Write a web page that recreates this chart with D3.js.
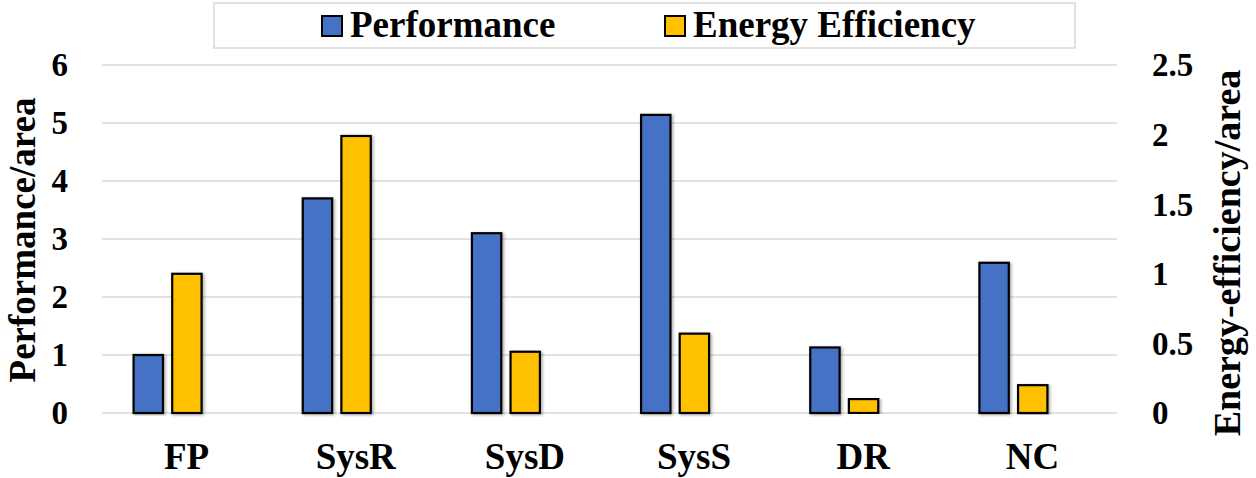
<!DOCTYPE html>
<html>
<head>
<meta charset="utf-8">
<script src="https://cdn.jsdelivr.net/npm/d3@7"></script>
<style>
  html, body { margin: 0; padding: 0; background: #fff; }
  svg { display: block; }
</style>
</head>
<body>
<svg id="chart" width="1256" height="478"></svg>
<script>
// Systems compared
const categories = ["FP", "SysR", "SysD", "SysS", "DR", "NC"];
// Performance per area (left axis)
const performance = [1.0, 3.7, 3.1, 5.14, 1.13, 2.59];
// Energy efficiency per area (right axis)
const energyEfficiency = [1.0, 1.99, 0.44, 0.57, 0.1, 0.2];
// Axis ticks
const leftTicks = [0, 1, 2, 3, 4, 5, 6];
const rightTicks = [0, 0.5, 1, 1.5, 2, 2.5];
const seriesNames = ["Performance", "Energy Efficiency"];
const seriesColors = ["#4472C4", "#FFC000"];

const FONT = "'Liberation Serif', 'Times New Roman', Times, serif";

const svg = d3.select("#chart");

const plot = { left: 102, right: 1117, top: 65, bottom: 413 };

const x = d3.scaleBand().domain(categories).range([plot.left, plot.right]).padding(0);
const yLeft = d3.scaleLinear().domain([0, 6]).range([plot.bottom, plot.top]);
const yRight = d3.scaleLinear().domain([0, 2.5]).range([plot.bottom, plot.top]);
// Two bars sit left of the group centre (a third slot is left empty)
const inner = d3.scaleBand().domain(seriesNames).range([-53, 15]).paddingInner(0.24).paddingOuter(0);

// Soft shadow under the bars
const defs = svg.append("defs");
const f = defs.append("filter").attr("id", "shadow")
  .attr("x", "-20%").attr("y", "-5%").attr("width", "140%").attr("height", "110%");
f.append("feDropShadow").attr("dx", 1.5).attr("dy", 1).attr("stdDeviation", 1.6)
  .attr("flood-color", "#000").attr("flood-opacity", 0.35);

function styleText(sel, size) {
  sel.style("font-family", FONT).style("font-weight", "bold")
     .style("font-size", size + "px").attr("fill", "#000");
}

// Gridlines
svg.append("g").selectAll("line").data(leftTicks).join("line")
  .attr("x1", plot.left).attr("x2", plot.right)
  .attr("y1", d => yLeft(d)).attr("y2", d => yLeft(d))
  .attr("stroke", "#d9d9d9").attr("stroke-width", 1.5);

// Left axis
const leftAxis = svg.append("g")
  .attr("transform", `translate(${plot.left - 34},0)`)
  .call(d3.axisLeft(yLeft).tickValues(leftTicks).tickSize(0).tickPadding(0).tickFormat(d3.format("d")));
leftAxis.select(".domain").remove();
leftAxis.selectAll("text").call(styleText, 33).attr("dy", "0.33em");

// Right axis
const rightAxis = svg.append("g")
  .attr("transform", `translate(${plot.right + 35},0)`)
  .call(d3.axisRight(yRight).tickValues(rightTicks).tickSize(0).tickPadding(0).tickFormat(d => d3.format("")(d)));
rightAxis.select(".domain").remove();
rightAxis.selectAll("text").call(styleText, 33).attr("dy", "0.33em");

// Category labels
svg.append("g").selectAll("text").data(categories).join("text")
  .attr("x", d => x(d) + x.bandwidth() / 2)
  .attr("y", 469)
  .attr("text-anchor", "middle")
  .call(styleText, 37)
  .text(d => d);

// Bars
const rows = categories.map((c, i) => ({ c, vals: [
  { key: seriesNames[0], v: performance[i], y: yLeft, color: seriesColors[0] },
  { key: seriesNames[1], v: energyEfficiency[i], y: yRight, color: seriesColors[1] }
]}));

const groups = svg.append("g").selectAll("g").data(rows).join("g")
  .attr("transform", d => `translate(${x(d.c) + x.bandwidth() / 2},0)`);
groups.selectAll("rect").data(d => d.vals).join("rect")
  .attr("x", d => inner(d.key))
  .attr("width", inner.bandwidth())
  .attr("y", d => d.y(d.v))
  .attr("height", d => d.y(0) - d.y(d.v))
  .attr("fill", d => d.color)
  .attr("stroke", "#000")
  .attr("stroke-width", 2.2)
  .attr("filter", "url(#shadow)");

// Axis titles
svg.append("text")
  .attr("transform", "translate(35,240) rotate(-90)")
  .attr("text-anchor", "middle")
  .call(styleText, 37)
  .text("Performance/area");
svg.append("text")
  .attr("transform", "translate(1240,253) rotate(-90)")
  .attr("text-anchor", "middle")
  .call(styleText, 38)
  .text("Energy-efficiency/area");

// Legend
const legend = svg.append("g");
legend.append("rect")
  .attr("x", 214).attr("y", 3).attr("width", 861).attr("height", 45)
  .attr("fill", "#fff").attr("stroke", "#d9d9d9").attr("stroke-width", 1.5);
const legendX = [322, 665];
seriesNames.forEach((name, i) => {
  legend.append("rect")
    .attr("x", legendX[i]).attr("y", 16).attr("width", 20).attr("height", 20)
    .attr("fill", seriesColors[i]).attr("stroke", "#000").attr("stroke-width", 2);
  legend.append("text")
    .attr("x", legendX[i] + 28).attr("y", 37)
    .call(styleText, 37)
    .text(name);
});
</script>
</body>
</html>
